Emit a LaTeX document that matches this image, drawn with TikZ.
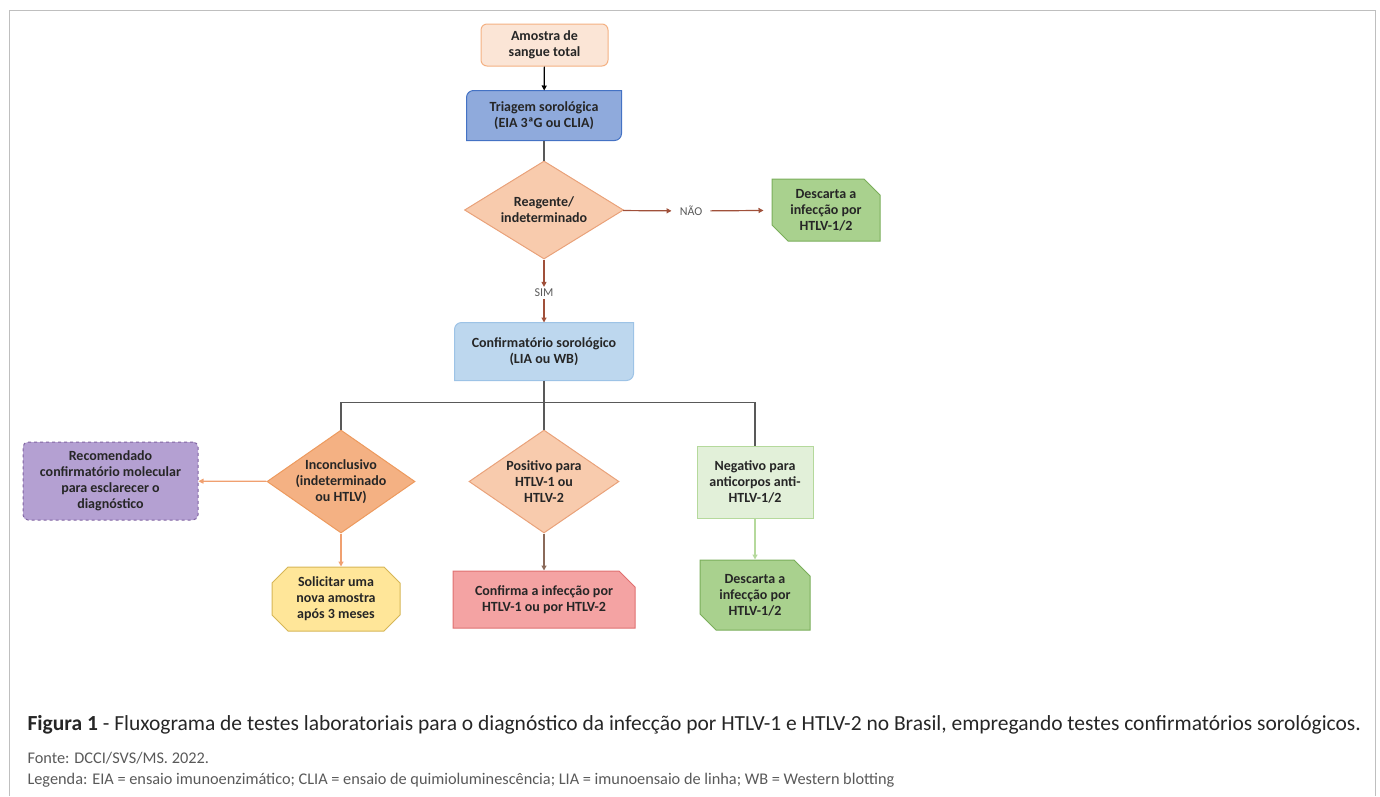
\documentclass[tikz,border=0pt]{standalone}
\usepackage{fontspec}
\setmainfont{Carlito}
\usetikzlibrary{arrows.meta,shapes.geometric,shapes.misc}
\definecolor{fluxink}{HTML}{262626}
\definecolor{fluxgray}{HTML}{595959}
\definecolor{fluxframe}{HTML}{BFBFBF}
\definecolor{peachfill}{HTML}{FBE5D6}
\definecolor{peachline}{HTML}{F4B183}
\definecolor{bluefill}{HTML}{8FAADC}
\definecolor{blueline}{HTML}{4472C4}
\definecolor{skyfill}{HTML}{BDD7EE}
\definecolor{skyline}{HTML}{9DC3E6}
\definecolor{tanfill}{HTML}{F8CBAD}
\definecolor{tanline}{HTML}{E9A27A}
\definecolor{orangefill}{HTML}{F4B183}
\definecolor{orangeline}{HTML}{ED9A5E}
\definecolor{greenfill}{HTML}{A9D18E}
\definecolor{greenline}{HTML}{7AAE5A}
\definecolor{palefill}{HTML}{E2F0D9}
\definecolor{paleline}{HTML}{B5D99C}
\definecolor{pinkfill}{HTML}{F4A3A3}
\definecolor{pinkline}{HTML}{E07070}
\definecolor{lilacfill}{HTML}{B4A0D2}
\definecolor{lilacline}{HTML}{8064A2}
\definecolor{yellowfill}{HTML}{FFE699}
\definecolor{yellowline}{HTML}{D6B656}
\definecolor{rustarrow}{HTML}{A0503A}
\definecolor{clayarrow}{HTML}{8A6A5A}
\definecolor{amberarrow}{HTML}{F0A070}
\pgfdeclarelayer{bg}
\pgfsetlayers{bg,main}

\begin{document}
\begin{tikzpicture}[x=1pt,y=-1pt,
    box/.style={align=center,font=\fontsize{14}{16}\selectfont\bfseries,
      text=fluxink,line width=1pt,inner sep=2pt},
    decide/.style={box,diamond,inner sep=-14pt},
    cut/.style={box,chamfered rectangle,chamfered rectangle xsep=8pt,
      chamfered rectangle ysep=8pt},
    flow/.style={line width=1.2pt,-{Triangle[length=5pt,width=5pt]}},
    tag/.style={font=\fontsize{12}{14}\selectfont,text=fluxgray,inner sep=2pt}]
    \useasboundingbox (0,0) rectangle (1380,796);
    \draw[fluxframe,line width=1pt] (9.5,796) -- (9.5,10.5) -- (1375.5,10.5) -- (1375.5,796);
    % upper column
    \node[box,draw=peachline,fill=peachfill,rounded corners=6pt,
      minimum width=127pt,minimum height=42pt] (amostra) at (544.5,45) {Amostra de\\sangue total};
    \node[box,minimum width=154pt,minimum height=49pt] (triagem) at (544,115.5)
      {Triagem sorológica\\(EIA 3ªG ou CLIA)};
    \node[decide,draw=tanline,fill=tanfill,minimum width=159pt,minimum height=98pt]
      (reagente) at (544,210) {Reagente/\\indeterminado};
    \node[tag,inner xsep=8pt] (nao) at (691,211) {NÃO};
    \node[cut,chamfered rectangle corners={north east,south west},draw=greenline,
      fill=greenfill,minimum width=108pt,minimum height=62pt] (descarta) at (826,210)
      {Descarta a\\infecção por\\HTLV-1/2};
    \node[tag] (sim) at (544,293) {SIM};
    \node[box,minimum width=178pt,minimum height=57pt] (confirm) at (544,351.5)
      {Confirmatório sorológico\\(LIA ou WB)};
    \begin{pgfonlayer}{bg}
      \foreach \b/\f/\d in {triagem/bluefill/blueline,confirm/skyfill/skyline}
        \filldraw[draw=\d,fill=\f,line width=1pt]
          ([yshift=-7pt]\b.north west) arc[start angle=180,end angle=90,radius=7pt]
          -- (\b.north east) -- ([yshift=7pt]\b.south east)
          arc[start angle=0,end angle=-90,radius=7pt] -- (\b.south west) -- cycle;
    \end{pgfonlayer}
    % results
    \node[decide,draw=orangeline,fill=orangefill,minimum width=148pt,minimum height=103pt]
      (inconcl) at (341,481.5) {Inconclusivo\\(indeterminado\\ou HTLV)};
    \node[decide,draw=tanline,fill=tanfill,minimum width=150pt,minimum height=103pt]
      (positivo) at (544,481.5) {Positivo para\\HTLV-1 ou\\HTLV-2};
    \node[box,draw=paleline,fill=palefill,minimum width=116pt,minimum height=72pt]
      (negativo) at (755,482) {Negativo para\\anticorpos anti-\\HTLV-1/2};
    \node[box,draw=lilacline,fill=lilacfill,dashed,rounded corners=5pt,
      minimum width=175pt,minimum height=78pt] (molecular) at (110.5,481)
      {Recomendado\\confirmatório molecular\\para esclarecer o\\diagnóstico};
    \node[cut,draw=yellowline,fill=yellowfill,minimum width=128pt,minimum height=62pt]
      (solicitar) at (336,599) {Solicitar uma\\nova amostra\\após 3 meses};
    \node[cut,chamfered rectangle corners=north east,draw=pinkline,fill=pinkfill,
      minimum width=182pt,minimum height=57pt] (confirma) at (544,599.5)
      {Confirma a infecção por\\HTLV-1 ou por HTLV-2};
    \node[cut,chamfered rectangle corners={north east,south west},draw=greenline,
      fill=greenfill,minimum width=110pt,minimum height=70pt] (descarta2) at (755,595)
      {Descarta a\\infecção por\\HTLV-1/2};
    % connectors
    \coordinate (split) at ([yshift=-22pt]confirm.south);
    \draw[flow,black] (amostra) -- (triagem);
    \draw[fluxgray,line width=1.2pt] (triagem) -- (reagente);
    \draw[flow,rustarrow] (reagente) -- (nao);
    \draw[flow,rustarrow,shorten >=8pt] (nao) -- (descarta);
    \draw[flow,rustarrow] (reagente) -- (sim);
    \draw[flow,rustarrow] (sim) -- (confirm);
    \draw[fluxgray,line width=1.2pt] (confirm) -- (split) -- (positivo.north)
      (inconcl.north) |- (split) -| (negativo.north);
    \draw[flow,amberarrow] (inconcl) -- (molecular);
    \draw[flow,amberarrow] (inconcl.south) -- (inconcl.south |- solicitar.north);
    \draw[flow,clayarrow] (positivo) -- (confirma);
    \draw[flow,paleline] (negativo) -- (descarta2);
    % caption
    \node[anchor=west,font=\fontsize{21.5}{25}\selectfont,text=fluxink] (titulo) at (24,725)
      {\textbf{Figura 1} - Fluxograma de testes laboratoriais para o diagnóstico da infecção por HTLV-1 e HTLV-2 no Brasil, empregando testes confirmatórios sorológicos.};
    \node[anchor=west,font=\fontsize{16.3}{19}\selectfont,text=fluxgray] (fonte) at (24,758)
      {Fonte: DCCI/SVS/MS. 2022.};
    \node[anchor=west,font=\fontsize{16.3}{19}\selectfont,text=fluxgray] (legenda) at (24,780)
      {Legenda: EIA = ensaio imunoenzimático; CLIA = ensaio de quimioluminescência; LIA = imunoensaio de linha; WB = Western blotting};
\end{tikzpicture}
\end{document}
